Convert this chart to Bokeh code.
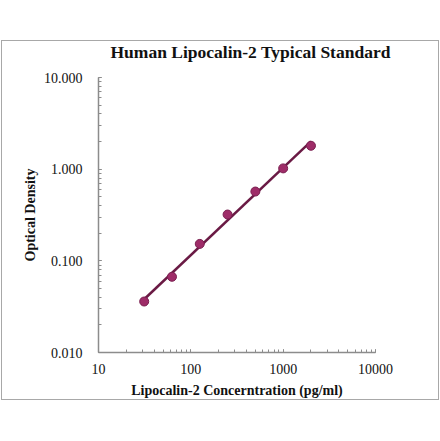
import numpy as np
from bokeh.plotting import figure
from bokeh.models import PrintfTickFormatter, LogTicker
from bokeh.embed import file_html
from bokeh.resources import INLINE

# Data
conc = [31.25, 62.5, 125, 250, 500, 1000, 2000]
od = [0.036, 0.067, 0.153, 0.32, 0.57, 1.02, 1.80]

title_text = "Human Lipocalin-2 Typical Standard"
x_label = "Lipocalin-2 Concerntration (pg/ml)"
y_label = "Optical Density"

# Power-law trendline (linear fit in log-log space)
slope, intercept = np.polyfit(np.log10(conc), np.log10(od), 1)
fit_x = [min(conc), max(conc)]
fit_y = [10 ** (intercept + slope * np.log10(v)) for v in fit_x]

SERIF = "Liberation Serif"
BOX = "linear-gradient(#a8a8a8,#a8a8a8)"

p = figure(
    width=438, height=377,
    x_axis_type="log", y_axis_type="log",
    x_range=(10, 10000), y_range=(0.01, 10),
    output_backend="svg", toolbar_location=None,
    min_border_left=97, min_border_right=64,
    min_border_top=54, min_border_bottom=48,
    styles={
        "position": "relative", "left": "1px", "top": "23px",
        "background": (
            f"{BOX} left 0 top 17px / 100% 1px no-repeat, "
            f"{BOX} left 0 bottom 0 / 100% 1px no-repeat, "
            f"{BOX} left 0 top 17px / 1px 100% no-repeat, "
            f"{BOX} right 0 top 17px / 1px 100% no-repeat"
        ),
    },
)
p.background_fill_color = "white"
p.border_fill_color = None
p.outline_line_color = None
p.xgrid.visible = False
p.ygrid.visible = False

p.title.text = title_text
p.title.align = "left"
p.title.offset = 12
p.title.text_font = SERIF
p.title.text_font_style = "bold"
p.title.text_font_size = "17.5px"
p.title.text_color = "#111111"
p.title.standoff = 31

p.line(fit_x, fit_y, line_color="#6a1a44", line_width=2.5)
p.scatter(conc, od, size=9, fill_color="#9e2c68", line_color="#7a1f50", line_width=1)

for ax in (p.xaxis[0], p.yaxis[0]):
    ax.axis_line_color = "#8c8c8c"
    ax.axis_line_width = 1.5
    ax.major_tick_line_color = "#8c8c8c"
    ax.minor_tick_line_color = "#8c8c8c"
    ax.major_tick_in = 3
    ax.major_tick_out = 0
    ax.minor_tick_in = 3
    ax.minor_tick_out = 0
    ax.major_label_text_font = SERIF
    ax.major_label_text_font_size = "14px"
    ax.major_label_text_color = "#111111"
    ax.axis_label_text_font = SERIF
    ax.axis_label_text_font_style = "bold"
    ax.axis_label_text_font_size = "14px"
    ax.axis_label_text_color = "#111111"

p.xaxis[0].ticker = LogTicker(desired_num_ticks=4, num_minor_ticks=10)
p.yaxis[0].ticker = LogTicker(desired_num_ticks=4, num_minor_ticks=10)
p.xaxis[0].formatter = PrintfTickFormatter(format="%d")
p.yaxis[0].formatter = PrintfTickFormatter(format="%.3f")
p.xaxis[0].major_label_standoff = 11
p.yaxis[0].major_label_standoff = 16
p.xaxis[0].axis_label = x_label
p.yaxis[0].axis_label = y_label
p.xaxis[0].axis_label_standoff = 6
p.yaxis[0].axis_label_standoff = 3

open("out.html", "w").write(file_html(p, INLINE))
